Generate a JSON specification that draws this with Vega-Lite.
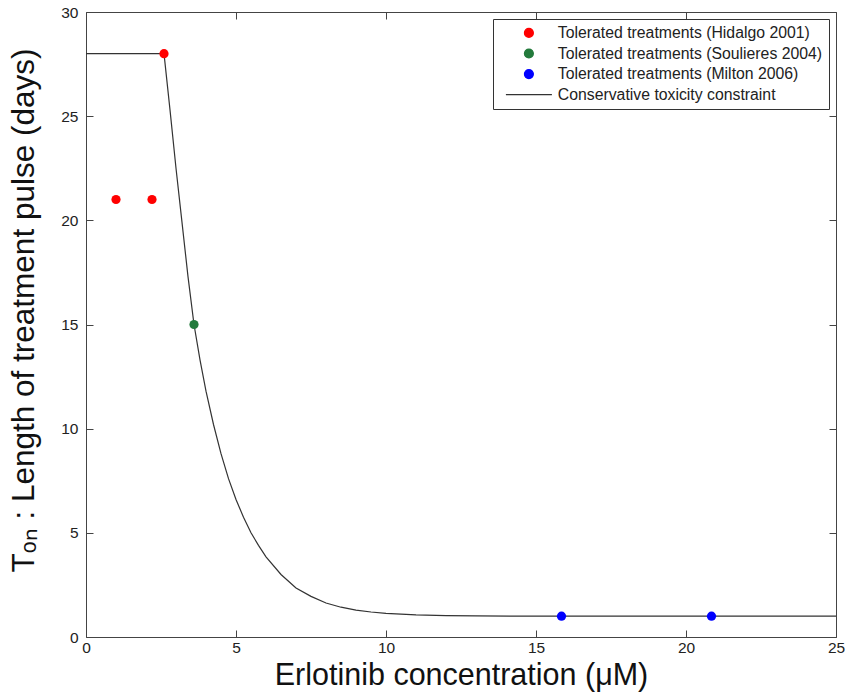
{
  "$schema": "https://vega.github.io/schema/vega-lite/v6.json",
  "width": 750,
  "height": 625,
  "autosize": "none",
  "padding": {"left": 86, "top": 12, "right": 10, "bottom": 60},
  "background": "white",
  "config": {
    "view": {"stroke": "#444", "strokeWidth": 1},
    "font": "Liberation Sans",
    "axis": {
      "grid": false,
      "domain": false,
      "labelFlush": false,
      "tickColor": "#444",
      "tickSize": -7,
      "labelFont": "Liberation Sans",
      "labelFontSize": 15.5,
      "labelColor": "#222",
      "titleFont": "Liberation Sans",
      "titleFontSize": 31.5,
      "titleFontWeight": "normal",
      "titleColor": "#111"
    },
    "legend": {
      "orient": "top-right",
      "offset": 7,
      "strokeColor": "#333",
      "fillColor": "white",
      "padding": 6,
      "labelFont": "Liberation Sans",
      "labelFontSize": 15.8,
      "labelLimit": 500,
      "labelColor": "#222",
      "symbolOffset": 22,
      "labelOffset": 21,
      "rowPadding": 3.6,
      "symbolSize": 80
    }
  },
  "datasets": {
    "curve": [
      {"conc": 0, "t": 28, "series": "Conservative toxicity constraint"},
      {"conc": 2.6, "t": 28, "series": "Conservative toxicity constraint"},
      {"conc": 2.8, "t": 25.3, "series": "Conservative toxicity constraint"},
      {"conc": 3.0, "t": 22.5, "series": "Conservative toxicity constraint"},
      {"conc": 3.2, "t": 19.9, "series": "Conservative toxicity constraint"},
      {"conc": 3.4, "t": 17.3, "series": "Conservative toxicity constraint"},
      {"conc": 3.6, "t": 15.0, "series": "Conservative toxicity constraint"},
      {"conc": 3.8, "t": 13.3, "series": "Conservative toxicity constraint"},
      {"conc": 4.0, "t": 11.8, "series": "Conservative toxicity constraint"},
      {"conc": 4.25, "t": 10.2, "series": "Conservative toxicity constraint"},
      {"conc": 4.5, "t": 8.8, "series": "Conservative toxicity constraint"},
      {"conc": 4.75, "t": 7.6, "series": "Conservative toxicity constraint"},
      {"conc": 5.0, "t": 6.6, "series": "Conservative toxicity constraint"},
      {"conc": 5.25, "t": 5.75, "series": "Conservative toxicity constraint"},
      {"conc": 5.5, "t": 5.0, "series": "Conservative toxicity constraint"},
      {"conc": 5.75, "t": 4.4, "series": "Conservative toxicity constraint"},
      {"conc": 6.0, "t": 3.85, "series": "Conservative toxicity constraint"},
      {"conc": 6.5, "t": 3.0, "series": "Conservative toxicity constraint"},
      {"conc": 7.0, "t": 2.35, "series": "Conservative toxicity constraint"},
      {"conc": 7.5, "t": 1.95, "series": "Conservative toxicity constraint"},
      {"conc": 8.0, "t": 1.63, "series": "Conservative toxicity constraint"},
      {"conc": 8.5, "t": 1.43, "series": "Conservative toxicity constraint"},
      {"conc": 9.0, "t": 1.29, "series": "Conservative toxicity constraint"},
      {"conc": 9.5, "t": 1.2, "series": "Conservative toxicity constraint"},
      {"conc": 10.0, "t": 1.13, "series": "Conservative toxicity constraint"},
      {"conc": 11.0, "t": 1.06, "series": "Conservative toxicity constraint"},
      {"conc": 12.0, "t": 1.03, "series": "Conservative toxicity constraint"},
      {"conc": 13.0, "t": 1.01, "series": "Conservative toxicity constraint"},
      {"conc": 15.0, "t": 1.0, "series": "Conservative toxicity constraint"},
      {"conc": 25.0, "t": 1.0, "series": "Conservative toxicity constraint"}
    ],
    "points": [
      {"conc": 2.6, "t": 28, "series": "Tolerated treatments (Hidalgo 2001)"},
      {"conc": 1.0, "t": 21, "series": "Tolerated treatments (Hidalgo 2001)"},
      {"conc": 2.2, "t": 21, "series": "Tolerated treatments (Hidalgo 2001)"},
      {"conc": 3.6, "t": 15, "series": "Tolerated treatments (Soulieres 2004)"},
      {"conc": 15.85, "t": 1, "series": "Tolerated treatments (Milton 2006)"},
      {"conc": 20.85, "t": 1, "series": "Tolerated treatments (Milton 2006)"}
    ]
  },
  "layer": [
    {
      "data": {"name": "curve"},
      "mark": {"type": "line", "color": "#333", "strokeWidth": 1.2, "clip": true},
      "encoding": {
        "x": {
          "field": "conc", "type": "quantitative",
          "scale": {"domain": [0, 25], "nice": false, "zero": false},
          "axis": {"orient": "bottom", "values": [0, 5, 10, 15, 20, 25], "labelPadding": 10, "title": "Erlotinib concentration (μM)", "titleFontSize": 30.5, "titleBaseline": "alphabetic", "titleY": 47}
        },
        "y": {
          "field": "t", "type": "quantitative",
          "scale": {"domain": [0, 30], "nice": false, "zero": false},
          "axis": {"orient": "left", "values": [0, 5, 10, 15, 20, 25, 30], "labelPadding": 15, "title": "Tₒₙ : Length of treatment pulse (days)", "titlePadding": 20, "titleY": 298}
        },
        "color": {
          "field": "series", "type": "nominal",
          "scale": {
            "domain": ["Tolerated treatments (Hidalgo 2001)", "Tolerated treatments (Soulieres 2004)", "Tolerated treatments (Milton 2006)", "Conservative toxicity constraint"],
            "range": ["#ff0000", "#237a3c", "#0000ff", "#333333"]
          },
          "legend": {
            "title": null,
            "encode": {
              "symbols": {
                "update": {
                  "shape": {"signal": "datum.value === 'Conservative toxicity constraint' ? 'stroke' : 'circle'"},
                  "size": {"signal": "datum.value === 'Conservative toxicity constraint' ? 2116 : 80"},
                  "fill": {"signal": "datum.value === 'Conservative toxicity constraint' ? 'transparent' : scale('color', datum.value)"},
                  "stroke": {"signal": "datum.value === 'Conservative toxicity constraint' ? '#333333' : 'transparent'"},
                  "strokeWidth": {"value": 1.2},
                  "opacity": {"value": 1}
                }
              }
            }
          }
        }
      }
    },
    {
      "data": {"name": "points"},
      "mark": {"type": "point", "filled": true, "size": 85, "opacity": 1, "shape": "circle"},
      "encoding": {
        "x": {
          "field": "conc", "type": "quantitative",
          "axis": {"orient": "top", "values": [0, 5, 10, 15, 20, 25], "labels": false, "title": null}
        },
        "y": {
          "field": "t", "type": "quantitative",
          "axis": {"orient": "right", "values": [0, 5, 10, 15, 20, 25, 30], "labels": false, "title": null}
        },
        "color": {"field": "series", "type": "nominal"}
      }
    }
  ],
  "resolve": {"axis": {"x": "independent", "y": "independent"}}
}
